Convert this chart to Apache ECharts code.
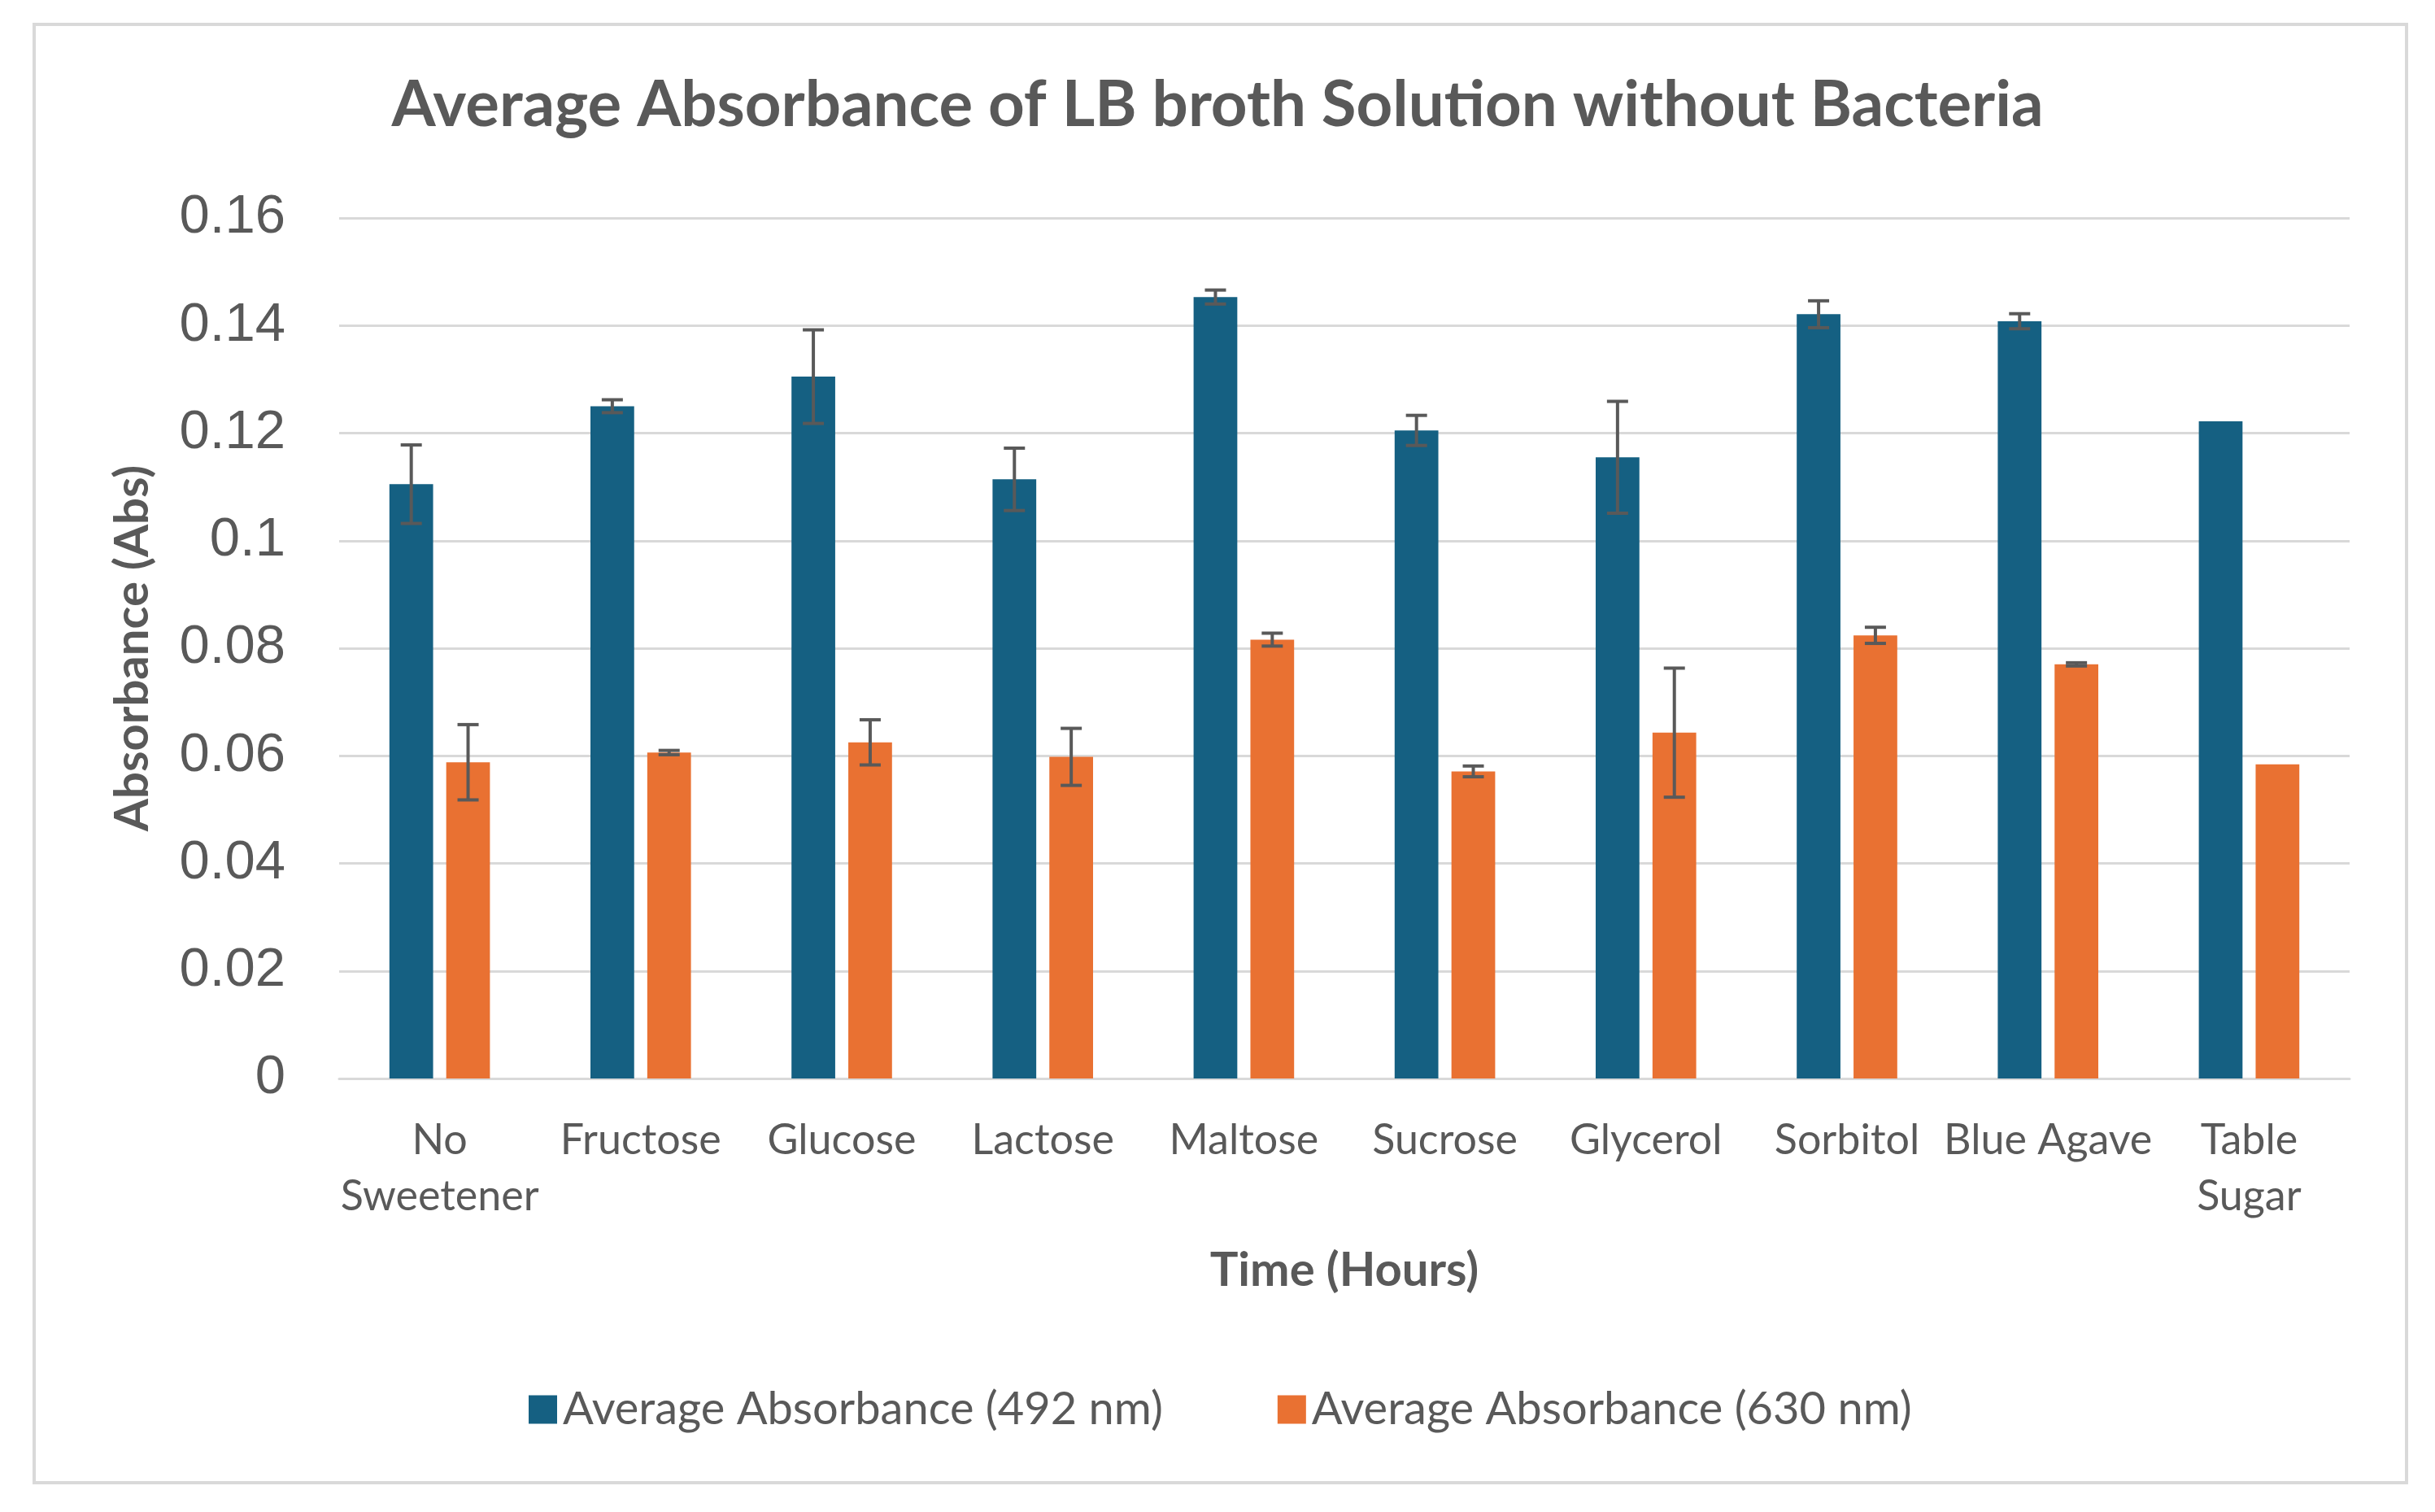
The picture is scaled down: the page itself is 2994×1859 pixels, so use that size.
<!DOCTYPE html>
<html>
<head>
<meta charset="utf-8">
<script src="https://cdn.jsdelivr.net/npm/echarts@6/dist/echarts.min.js"></script>
<style>
  html, body { margin: 0; padding: 0; background: #fff; }
  #chart { width: 2994px; height: 1859px; }
</style>
</head>
<body>
<div id="chart"></div>
<script>
const categories = ['No\nSweetener', 'Fructose', 'Glucose', 'Lactose', 'Maltose', 'Sucrose', 'Glycerol', 'Sorbitol', 'Blue Agave', 'Table\nSugar']
const abs492 = [0.1105, 0.125, 0.1305, 0.1114, 0.1453, 0.1205, 0.1155, 0.1421, 0.1408, 0.1222]
const abs630 = [0.0588, 0.0606, 0.0625, 0.0598, 0.0816, 0.0571, 0.0643, 0.0824, 0.077, 0.0584]
const err492 = [0.0073, 0.0012, 0.0087, 0.0058, 0.0013, 0.0028, 0.0104, 0.0025, 0.0014, 0]
const err630 = [0.007, 0.0004, 0.0042, 0.0053, 0.0012, 0.001, 0.012, 0.0015, 0.0003, 0]

const blue = '#156082'
const orange = '#E97132'
const textColor = '#595959'
const gridColor = '#D9D9D9'

// 误差线，用 barLayout 对齐到分组柱子中心
function errorSeries(name, values, errs, idx) {
  return {
    type: 'custom',
    name: name,
    z: 10,
    data: values.map((v, i) => [i, v - errs[i], v + errs[i], errs[i]]),
    renderItem: function (params, api) {
      if (!api.value(3)) return null
      const xValue = api.value(0)
      const low = api.coord([xValue, api.value(1)])
      const high = api.coord([xValue, api.value(2)])
      const layout = api.barLayout({ barGap: '30%', barCategoryGap: '50%', count: 2 })
      const x = low[0] + layout[idx].offsetCenter
      const half = 13
      const style = { stroke: textColor, lineWidth: 4 }
      return {
        type: 'group',
        children: [
          { type: 'line', shape: { x1: x, y1: low[1], x2: x, y2: high[1] }, style: style },
          { type: 'line', shape: { x1: x - half, y1: low[1], x2: x + half, y2: low[1] }, style: style },
          { type: 'line', shape: { x1: x - half, y1: high[1], x2: x + half, y2: high[1] }, style: style },
        ],
      }
    },
  }
}

const option = {
  animation: false,
  backgroundColor: '#fff',
  title: {
    text: 'Average Absorbance of LB broth Solution without Bacteria',
    left: 'center',
    top: 86,
    textStyle: { fontFamily: 'Lato', fontWeight: 'bold', fontSize: 78, color: textColor },
  },
  graphic: [
    {
      type: 'rect',
      shape: { x: 42, y: 30, width: 2917, height: 1793 },
      style: { fill: 'none', stroke: gridColor, lineWidth: 4 },
      z: -1,
    },
  ],
  legend: {
    data: ['Average Absorbance (492 nm)', 'Average Absorbance (630 nm)'],
    left: 645,
    top: 1700,
    icon: 'rect',
    itemWidth: 35,
    itemHeight: 35,
    itemGap: 141,
    textStyle: { fontFamily: 'Lato', fontSize: 56, color: textColor, padding: [0, 0, 0, 2] },
  },
  grid: {
    left: 417,
    right: 105,
    top: 268,
    bottom: 533,
  },
  xAxis: {
    type: 'category',
    data: categories,
    name: 'Time (Hours)',
    nameLocation: 'middle',
    nameGap: 207,
    nameTextStyle: { fontFamily: 'Lato', fontWeight: 'bold', fontSize: 58, color: textColor },
    axisLine: { lineStyle: { color: gridColor, width: 3 } },
    axisTick: { show: false },
    axisLabel: {
      interval: 0,
      margin: 42,
      fontFamily: 'Lato',
      fontSize: 52,
      lineHeight: 69,
      color: textColor,
    },
  },
  yAxis: {
    type: 'value',
    min: 0,
    max: 0.16,
    interval: 0.02,
    name: 'Absorbance (Abs)',
    nameLocation: 'middle',
    nameGap: 225,
    nameTextStyle: { fontFamily: 'Lato', fontWeight: 'bold', fontSize: 58, color: textColor },
    axisLine: { show: false },
    axisTick: { show: false },
    axisLabel: {
      margin: 66,
      fontFamily: 'Liberation Sans',
      fontSize: 67,
      color: textColor,
    },
    splitLine: { lineStyle: { color: gridColor, width: 3 } },
  },
  series: [
    {
      name: 'Average Absorbance (492 nm)',
      type: 'bar',
      data: abs492,
      itemStyle: { color: blue },
      barGap: '30%',
      barCategoryGap: '50%',
    },
    {
      name: 'Average Absorbance (630 nm)',
      type: 'bar',
      data: abs630,
      itemStyle: { color: orange },
      barGap: '30%',
      barCategoryGap: '50%',
    },
    errorSeries('err492', abs492, err492, 0),
    errorSeries('err630', abs630, err630, 1),
  ],
}

const myChart = echarts.init(document.getElementById('chart'))
myChart.setOption(option)
</script>
</body>
</html>
